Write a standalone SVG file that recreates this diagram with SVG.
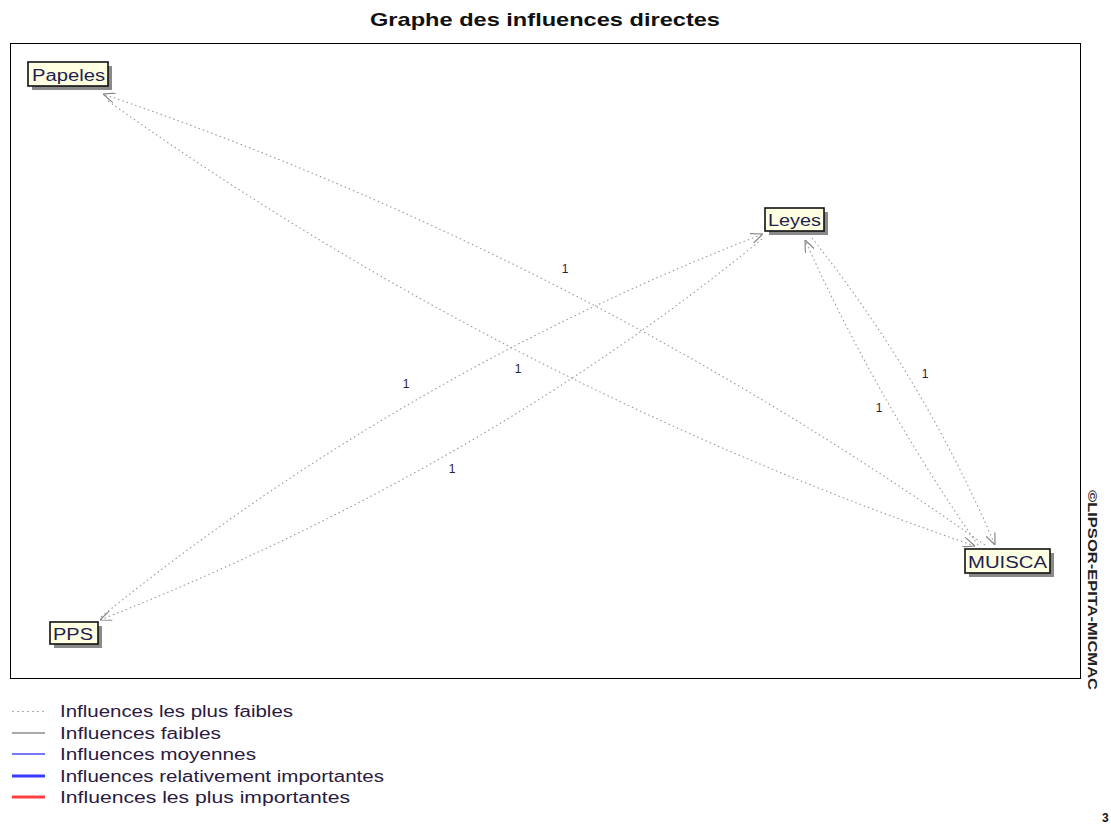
<svg xmlns="http://www.w3.org/2000/svg" width="1111" height="825" viewBox="0 0 1111 825">
<style>
.t{font-family:"Liberation Sans",Arial,sans-serif}
.title{font-size:19px;font-weight:bold;fill:#111}
.edge{fill:none;stroke:#999;stroke-width:1.1;stroke-dasharray:1.5 3}
.lbl{font-size:12px;fill:#2a2040}
.box{fill:#ffffe1;stroke:#111;stroke-width:1.6}
.shadow{fill:#8a8a8a}
.ntext{font-size:16px;fill:#1e1e50}
.leg{font-size:16px;fill:#2a1a40}
</style>
<defs>
<marker id="arr" viewBox="0 0 12 10" refX="12" refY="5" markerWidth="12" markerHeight="10" markerUnits="userSpaceOnUse" orient="auto">
<path d="M0,0 L12,5 L0,10" fill="none" stroke="#888" stroke-width="1.2" stroke-dasharray="none"/>
</marker>
</defs>
<rect width="1111" height="825" fill="#fff"/>
<text class="t title" x="545" y="26" text-anchor="middle" textLength="350" lengthAdjust="spacingAndGlyphs">Graphe des influences directes</text>
<rect x="10.5" y="43.5" width="1070" height="635" fill="none" stroke="#000" stroke-width="1"/>
<g id="connectors">
<path class="edge" d="M985,545 Q576,256 103,94" marker-end="url(#arr)"/>
<path class="edge" d="M108,101 Q509,386 975,546" marker-end="url(#arr)"/>
<path class="edge" d="M101,617 Q401,374 763,234" marker-end="url(#arr)"/>
<path class="edge" d="M762,239 Q480,470 100,620" marker-end="url(#arr)"/>
<path class="edge" d="M978,545 Q877,400 805,240" marker-end="url(#arr)"/>
<path class="edge" d="M812,238 Q924,379 995,545" marker-end="url(#arr)"/>
<text class="t lbl" x="565" y="273" text-anchor="middle">1</text>
<text class="t lbl" x="518" y="373" text-anchor="middle">1</text>
<text class="t lbl" x="406" y="388" text-anchor="middle">1</text>
<text class="t lbl" x="452" y="473" text-anchor="middle">1</text>
<text class="t lbl" x="925" y="378" text-anchor="middle">1</text>
<text class="t lbl" x="879" y="412" text-anchor="middle">1</text>
</g>
<g id="node-papeles">
<rect class="shadow" x="32" y="66" width="80" height="24"/>
<rect class="box" x="28" y="62" width="80" height="24"/>
<text class="t ntext" x="32" y="81" textLength="73" lengthAdjust="spacingAndGlyphs">Papeles</text>
</g>
<g id="node-leyes">
<rect class="shadow" x="769" y="212" width="59" height="23"/>
<rect class="box" x="765" y="208" width="59" height="23"/>
<text class="t ntext" x="768" y="226" textLength="53" lengthAdjust="spacingAndGlyphs">Leyes</text>
</g>
<g id="node-muisca">
<rect class="shadow" x="969" y="553" width="85" height="24"/>
<rect class="box" x="965" y="549" width="85" height="24"/>
<text class="t ntext" x="968" y="568" textLength="79" lengthAdjust="spacingAndGlyphs">MUISCA</text>
</g>
<g id="node-pps">
<rect class="shadow" x="54" y="626" width="48" height="22"/>
<rect class="box" x="50" y="622" width="48" height="22"/>
<text class="t ntext" x="53" y="640" textLength="40" lengthAdjust="spacingAndGlyphs">PPS</text>
</g>
<g id="legend">
<line x1="12" y1="711.5" x2="45" y2="711.5" stroke="#aaa" stroke-width="1" stroke-dasharray="2 3"/>
<line x1="12" y1="733" x2="45" y2="733" stroke="#555" stroke-width="1.2"/>
<line x1="12" y1="754" x2="45" y2="754" stroke="#4b4bff" stroke-width="1.5"/>
<line x1="12" y1="776" x2="45" y2="776" stroke="#3a3aff" stroke-width="3"/>
<line x1="12" y1="797" x2="45" y2="797" stroke="#ff4040" stroke-width="3"/>
<text class="t leg" x="60" y="717" textLength="233" lengthAdjust="spacingAndGlyphs">Influences les plus faibles</text>
<text class="t leg" x="60" y="739" textLength="161" lengthAdjust="spacingAndGlyphs">Influences faibles</text>
<text class="t leg" x="60" y="760" textLength="196" lengthAdjust="spacingAndGlyphs">Influences moyennes</text>
<text class="t leg" x="60" y="782" textLength="324" lengthAdjust="spacingAndGlyphs">Influences relativement importantes</text>
<text class="t leg" x="60" y="803" textLength="290" lengthAdjust="spacingAndGlyphs">Influences les plus importantes</text>
</g>
<text class="t" x="0" y="0" transform="translate(1088,490) rotate(90)" font-size="12" font-weight="bold" fill="#222" textLength="200" lengthAdjust="spacingAndGlyphs">©LIPSOR-EPITA-MICMAC</text>
<text class="t" x="1102" y="822" font-size="12" font-weight="bold" fill="#111">3</text>
</svg>
